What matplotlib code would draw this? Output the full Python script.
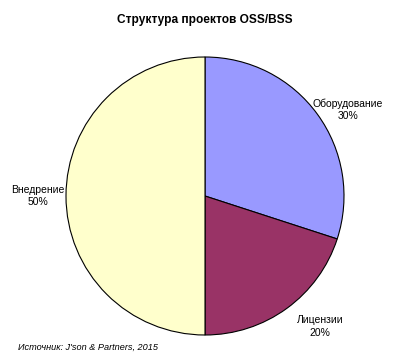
import matplotlib
matplotlib.use("Agg")
import matplotlib.pyplot as plt

# Data
labels = ["Оборудование", "Лицензии", "Внедрение"]
shares = [30, 20, 50]
colors = ["#9999FF", "#993366", "#FFFFCC"]

plt.rcParams["font.family"] = ["Liberation Sans", "DejaVu Sans"]

fig = plt.figure(figsize=(4, 3.6), dpi=100)
fig.patch.set_facecolor("white")

# pie centred at (205, 196) px, radius 139 px
cx, cy, r = 205, 196, 139
ax = fig.add_axes([(cx - r) / 400, (360 - cy - r) / 360, 2 * r / 400, 2 * r / 360])
ax.pie(shares, colors=colors, startangle=90, counterclock=False, radius=1,
       wedgeprops=dict(edgecolor="black", linewidth=0.8))
ax.set_xlim(-1, 1)
ax.set_ylim(-1, 1)
ax.set_aspect("auto")
ax.axis("off")

# label positions (data coords, relative to radius)
label_pos = [(1.03, 0.62), (0.83, -0.94), (-1.20, 0.0)]
for name, val, (x, y) in zip(labels, shares, label_pos):
    ax.text(x, y, f"{name}\n{val}%", ha="center", va="center", fontsize=7.5,
            linespacing=1.3, clip_on=False)

fig.text(0.5125, 1 - 20 / 360, "Структура проектов OSS/BSS", ha="center", va="center",
         fontsize=8.6, fontweight="bold")
fig.text(18 / 400, 1 - 347 / 360, "Источник: J'son & Partners, 2015", ha="left", va="center",
         fontsize=6.6, style="italic")

fig.savefig("out.png", dpi=100, facecolor="white")
